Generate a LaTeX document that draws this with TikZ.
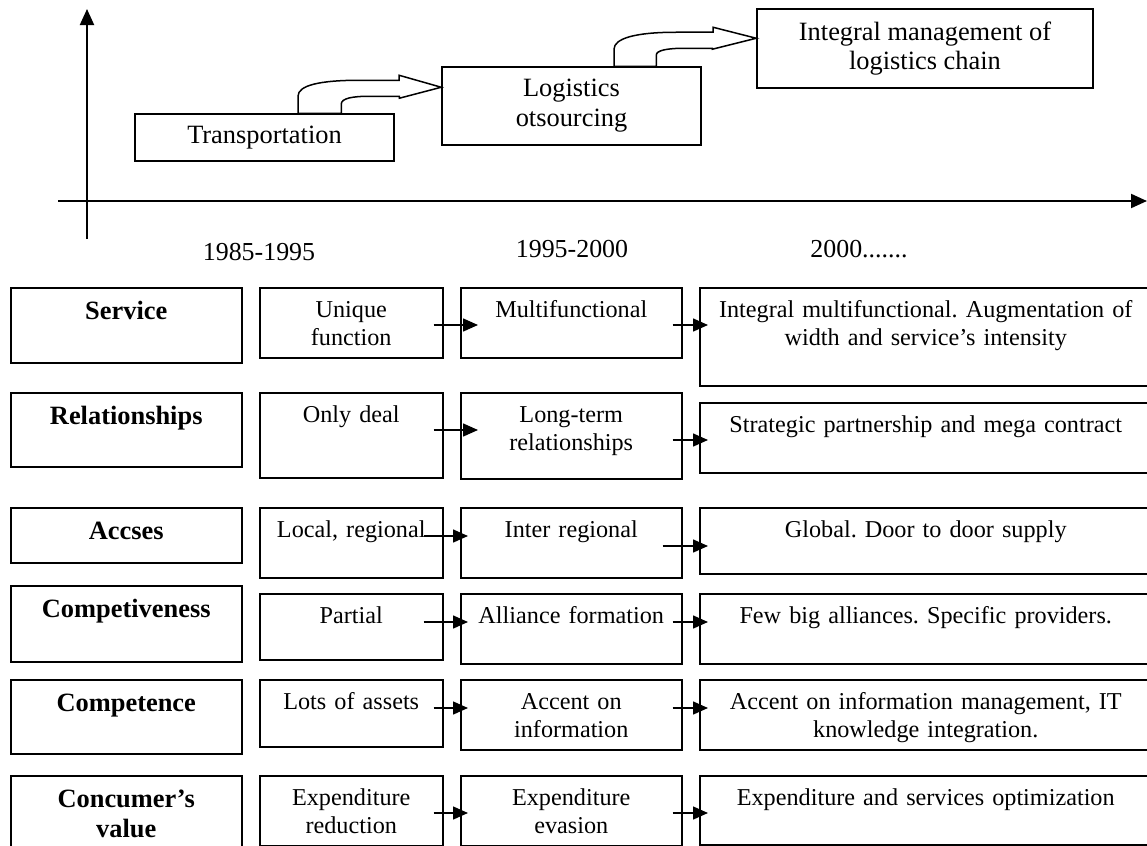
\documentclass[tikz,border=0pt]{standalone}
\usepackage{fontspec}
\setmainfont{Liberation Serif}
\usepackage{tikz}
\usetikzlibrary{arrows.meta, positioning, calc}
\frenchspacing

\begin{document}
\begin{tikzpicture}[x=1bp, y=-1bp,
		stage/.style={draw, line width=1.5bp, inner sep=0pt, align=center, font=\fontsize{26.5}{30}\selectfont},
		period/.style={font=\fontsize{26}{30}\selectfont},
		head/.style={draw, line width=1.5bp, inner sep=0pt, anchor=north west, align=center, text height=32bp, font=\fontsize{26.5}{29.5}\selectfont\bfseries},
		cell/.style={draw, line width=1.5bp, inner sep=0pt, anchor=north west, align=center, text height=30bp, font=\fontsize{24.3}{27.5}\selectfont},
		axis/.style={line width=2bp, -{Triangle[length=16bp, width=14bp]}},
		arr/.style={line width=1.5bp, -{Triangle[length=15bp, width=13bp]}},
		bendarr/.style={draw, line width=1.5bp, fill=white, line join=miter}]
	\useasboundingbox (0,0) rectangle (1147,846);
	\clip (0,0) rectangle (1147,846);
	% time axis
	\coordinate (ybot) at (87,239); \coordinate (ytop) at (87,9);
	\coordinate (xleft) at (58,201); \coordinate (xright) at (1147,201);
	\draw[axis] (ybot) -- (ytop);
	\draw[axis] (xleft) -- (xright);
	\node[stage, minimum width=259bp, minimum height=47bp] (trans) at (264.5,137.5) {Transportation};
	\node[stage, minimum width=259bp, minimum height=78bp] (logi) at (571.5,106) {Logistics\\otsourcing};
	\node[stage, minimum width=336bp, minimum height=79bp] (integ) at (925,48.5) {Integral management of\\logistics chain};
	\draw[bendarr] ([xshift=33.5bp]trans.north) -- ++(0,-17) .. controls +(0,-11) and +(-40,0) .. ++(62,-16) -- ++(39,0) -- ++(0,-5)
		-- ([yshift=-21bp]logi.north west) -- ++(-42,11) -- ++(0,-2) -- ++(-29,0) .. controls +(-18,0) and +(0,-6) .. ++(-29,8) -- ++(0,9) -- cycle;
	\draw[bendarr] ([xshift=42.5bp]logi.north) -- ++(0,-17) .. controls +(0,-11) and +(-40,0) .. ++(62,-17) -- ++(37,0) -- ++(0,-5)
		-- ([yshift=-30bp]integ.north west) -- ++(-44,11) -- ++(0,-1) -- ++(-27,0) .. controls +(-18,0) and +(0,-5) .. ++(-29,7) -- ++(0,11) -- cycle;
	\node[period] (yr1) at (259,252) {1985-1995};
	\node[period] (yr2) at (572,249) {1995-2000};
	\node[period] (yr3) at (859,249) {2000.......};
	% table
	\foreach \r/\y/\h/\lab in {1/287/75/Service, 2/392/74/Relationships, 3/507/55/Accses, 4/585/76/Competiveness, 5/679/74/Competence, 6/775/75/{Concumer’s\\value}}{
		\pgfmathsetmacro\dd{\h-32}
		\node[head, text width=231bp, text depth=\dd bp] (a\r) at (10,\y) {\lab};
	}
	\foreach \r/\y/\h/\lab in {1/287/70/{Unique\\function}, 2/392/85/{Only deal}, 3/507/70/{Local, regional}, 4/593/66/Partial, 5/679/67/{Lots of assets}, 6/775/70/{Expenditure\\reduction}}{
		\pgfmathsetmacro\dd{\h-30}
		\node[cell, text width=183bp, text depth=\dd bp] (b\r) at (259,\y) {\lab};
	}
	\foreach \r/\y/\h/\lab in {1/287/70/Multifunctional, 2/392/86/{Long-term\\relationships}, 3/507/70/{Inter regional}, 4/593/70/{Alliance formation}, 5/679/70/{Accent on\\information}, 6/775/70/{Expenditure\\evasion}}{
		\pgfmathsetmacro\dd{\h-30}
		\node[cell, text width=221bp, text depth=\dd bp] (c\r) at (460,\y) {\lab};
	}
	\foreach \r/\y/\h/\lab in {1/287/98/{Integral multifunctional. Augmentation of\\width and service’s intensity}, 2/402/70/{Strategic partnership and mega contract}, 3/507/66/{Global. Door to door supply}, 4/593/70/{Few big alliances. Specific providers.}, 5/679/70/{Accent on information management, IT\\knowledge integration.}, 6/775/69/{Expenditure and services optimization}}{
		\pgfmathsetmacro\dd{\h-30}
		\node[cell, text width=452bp, text depth=\dd bp] (d\r) at (699,\y) {\lab};
	}
	\foreach \r/\ya/\yb/\sa/\sb/\ta in {1/325/325/10/10/18, 2/430/440/10/10/18, 3/536/546/20/20/8, 4/622/622/20/10/8, 5/708/708/10/10/8, 6/813/813/10/10/8}{
		\draw[arr] ($(b\r.east |- 0,\ya)+(-\sa,0)$) -- ($(c\r.west |- 0,\ya)+(\ta,0)$);
		\draw[arr] ($(c\r.east |- 0,\yb)+(-\sb,0)$) -- ($(d\r.west |- 0,\yb)+(9,0)$);
	}
\end{tikzpicture}
\end{document}
